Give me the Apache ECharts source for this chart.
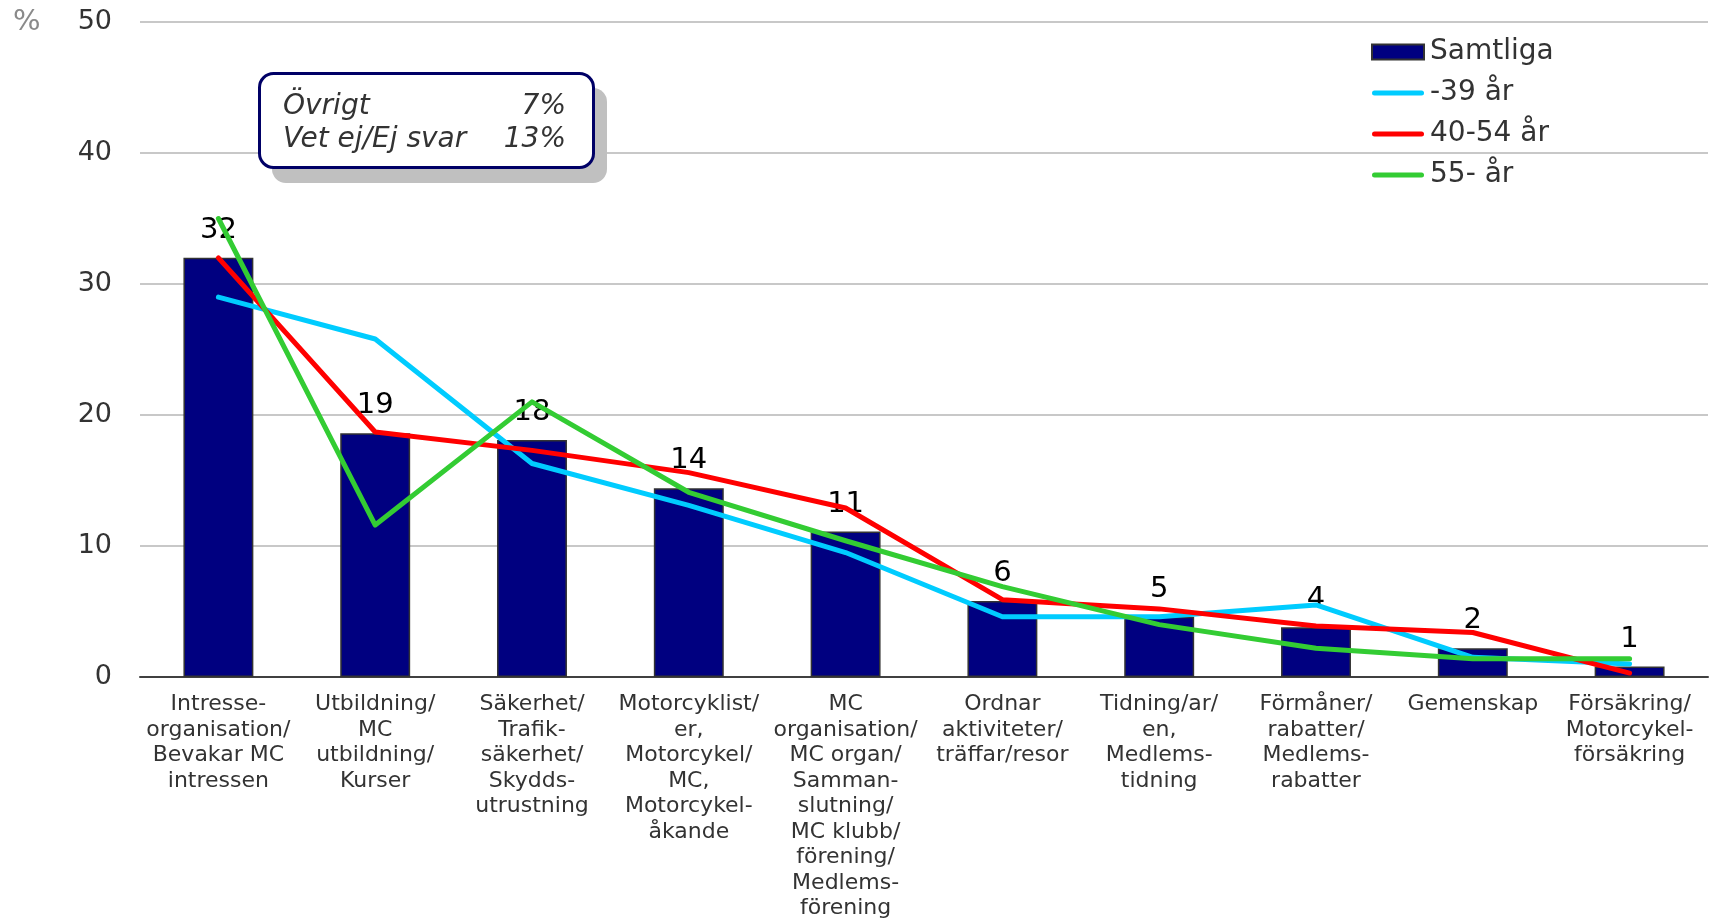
<!DOCTYPE html>
<html>
<head>
<meta charset="utf-8">
<script src="https://cdn.jsdelivr.net/npm/echarts@6/dist/echarts.min.js"></script>
<style>
html,body{margin:0;padding:0;background:#fff;}
#chart{width:1710px;height:919px;}
</style>
</head>
<body>
<div id="chart"></div>
<script>
const categories = [
  "Intresse-\norganisation/\nBevakar MC\nintressen",
  "Utbildning/\nMC\nutbildning/\nKurser",
  "Säkerhet/\nTrafik-\nsäkerhet/\nSkydds-\nutrustning",
  "Motorcyklist/\ner,\nMotorcykel/\nMC,\nMotorcykel-\nåkande",
  "MC\norganisation/\nMC organ/\nSamman-\nslutning/\nMC klubb/\nförening/\nMedlems-\nförening",
  "Ordnar\naktiviteter/\nträffar/resor",
  "Tidning/ar/\nen,\nMedlems-\ntidning",
  "Förmåner/\nrabatter/\nMedlems-\nrabatter",
  "Gemenskap",
  "Försäkring/\nMotorcykel-\nförsäkring"
];
const samtliga = [32, 18.6, 18.1, 14.4, 11.1, 5.8, 4.6, 3.8, 2.2, 0.8];
const age39 = [29, 25.8, 16.3, 13.1, 9.5, 4.6, 4.6, 5.5, 1.5, 1.0];
const age4054 = [32, 18.7, 17.3, 15.6, 12.9, 5.9, 5.2, 3.9, 3.4, 0.3];
const age55 = [35, 11.6, 21.0, 14.1, 10.4, 6.9, 4.0, 2.2, 1.4, 1.4];
const yTicks = [0, 10, 20, 30, 40, 50];
const noteRows = [["Övrigt", "7%"], ["Vet ej/Ej svar", "13%"]];

const FONT = "DejaVu Sans";
const chart = echarts.init(document.getElementById('chart'));

const noteGraphics = [
  {type:'rect', left:272, top:88, shape:{width:335, height:95, r:14}, style:{fill:'#c0c0c0'}, z:10},
  {type:'rect', left:258, top:72, shape:{width:334, height:94, r:14}, style:{fill:'#fff', stroke:'#000066', lineWidth:3}, z:11}
];
noteRows.forEach((r, i) => {
  noteGraphics.push({type:'text', left:283, top:93 + i*33, z:12,
    style:{text:r[0], font:'italic 28px "DejaVu Sans"', fill:'#333'}});
  noteGraphics.push({type:'text', right:1710-566, top:93 + i*33, z:12,
    style:{text:r[1], font:'italic 28px "DejaVu Sans"', fill:'#333', align:'right'}});
});
noteGraphics.push({type:'text', left:13, top:8, z:12,
  style:{text:'%', font:'29px "DejaVu Sans"', fill:'#8a8a8a'}});

const lineIcon = 'path://M2.5,0 L49.5,0 A2.5,2.5 0 0 1 49.5,5 L2.5,5 A2.5,2.5 0 0 1 2.5,0 Z';

const lineSeries = (name, data, color) => ({
  name, type:'line', data, symbol:'none', showSymbol:false,
  lineStyle:{color, width:5, cap:'round', join:'round'},
  itemStyle:{color}, z:3, animation:false
});

chart.setOption({
  animation:false,
  textStyle:{fontFamily:FONT},
  grid:{left:140, right:2, top:22, bottom:242, containLabel:false, outerBoundsMode:'none'},
  legend:{
    orient:'vertical', left:1366, top:32, itemWidth:52, itemHeight:15, itemGap:11,
    symbolKeepAspect:true,
    textStyle:{fontFamily:FONT, fontSize:28, color:'#333', lineHeight:30, padding:[0,0,0,1]},
    data:[
      {name:'Samtliga', icon:'rect'},
      {name:'-39 år', icon:lineIcon},
      {name:'40-54 år', icon:lineIcon},
      {name:'55- år', icon:lineIcon}
    ]
  },
  xAxis:{
    type:'category', data:categories,
    axisLine:{lineStyle:{color:'#404040', width:2}},
    axisTick:{show:false},
    axisLabel:{interval:0, fontFamily:FONT, fontSize:22, lineHeight:25.5, color:'#333', margin:15}
  },
  yAxis:{
    type:'value', min:yTicks[0], max:yTicks[yTicks.length-1], interval:10,
    axisLine:{show:false}, axisTick:{show:false},
    splitLine:{lineStyle:{color:'#c8c8c8', width:2}},
    axisLabel:{fontFamily:FONT, fontSize:27, color:'#333', margin:28}
  },
  graphic:noteGraphics,
  series:[
    {
      name:'Samtliga', type:'bar', data:samtliga, barWidth:'44.6%',
      itemStyle:{color:'#000080', borderColor:'#333', borderWidth:1.5},
      label:{show:true, position:'top', distance:13, fontFamily:FONT, fontSize:29, color:'#000',
        formatter:p => Math.round(p.value)},
      z:2
    },
    lineSeries('-39 år', age39, '#00ccff'),
    lineSeries('40-54 år', age4054, '#ff0000'),
    lineSeries('55- år', age55, '#33cc33')
  ]
});
</script>
</body>
</html>
